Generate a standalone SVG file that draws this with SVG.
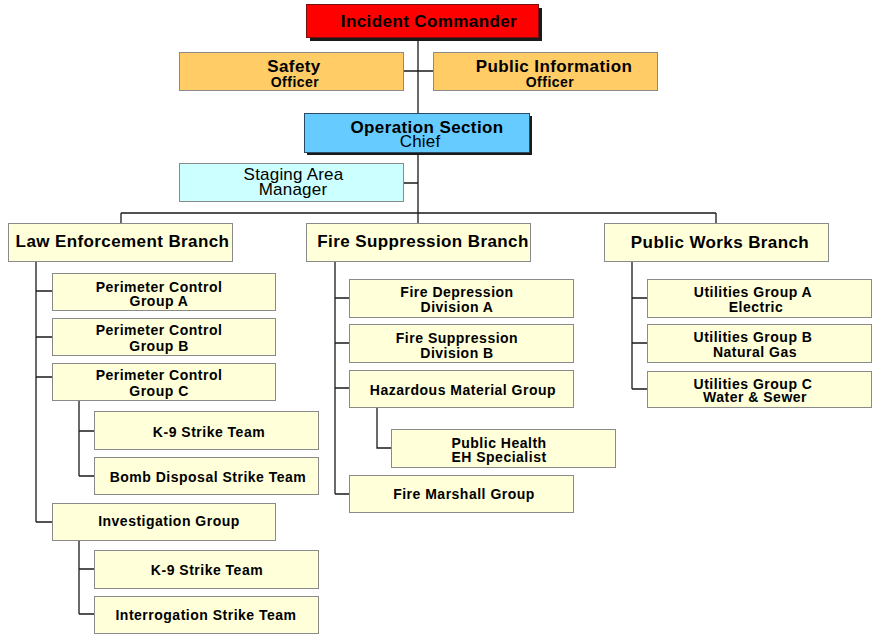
<svg xmlns="http://www.w3.org/2000/svg" width="878" height="639" viewBox="0 0 878 639">
<style>
text{font-family:"Liberation Sans",Arial,sans-serif;text-anchor:middle;fill:#000}
.b{font-weight:bold}
.t17{font-size:17px;letter-spacing:0.4px}
.t14{font-size:14px;letter-spacing:0.5px}
.n17{font-size:17px;font-weight:normal;letter-spacing:0.2px}
.box{stroke:#8a8a8a;stroke-width:1}
.y{fill:#ffffd9}
.sh{fill:#1a1a1a}
#conn path{fill:none;stroke:#1a1a1a;stroke-width:1.3}
</style>
<rect width="878" height="639" fill="#fff"/>
<g id="conn">
<path d="M418 37V213M403 71H433M403 183H418M121 213H716M121 213V223M418 213V223M716 213V223"/>
<path d="M36 261V522M36 291H52M36 337H52M36 377H52M36 522H52"/>
<path d="M79 401V476M79 431H94M79 476H94"/>
<path d="M79 540V614M79 569H94M79 614H94"/>
<path d="M335 262V494M335 298H349M335 343H349M335 388H349M335 494H349"/>
<path d="M377 407V448H391"/>
<path d="M632 262V389M632 298H647M632 343H647M632 389H647"/>
</g>
<g id="incident-commander">
<rect class="sh" x="310" y="8" width="232" height="33"/>
<rect x="306.5" y="4.5" width="232" height="33" fill="#ff0000" stroke="#7a1010"/>
<text class="b t17" x="429" y="27">Incident Commander</text>
</g>
<g id="safety-officer">
<rect class="box" x="179.5" y="52.5" width="224" height="38" fill="#ffcc66"/>
<text class="b t17" x="294" y="72">Safety</text>
<text class="b t14" x="295" y="87">Officer</text>
</g>
<g id="public-information-officer">
<rect class="box" x="433.5" y="52.5" width="224" height="38" fill="#ffcc66"/>
<text class="b t17" x="554" y="72">Public Information</text>
<text class="b t14" x="550" y="87">Officer</text>
</g>
<g id="operation-section-chief">
<rect class="sh" x="307" y="116" width="225" height="39"/>
<rect x="304.5" y="113.5" width="225" height="39" fill="#66ccff" stroke="#2a4a66"/>
<text class="b t17" x="427" y="133">Operation Section</text>
<text class="n17" x="420" y="147">Chief</text>
</g>
<g id="staging-area-manager">
<rect class="box" x="179.5" y="163.5" width="224" height="38" fill="#ccffff"/>
<text class="n17" x="293.5" y="180">Staging Area</text>
<text class="n17" x="293" y="195">Manager</text>
</g>
<g id="law-enforcement-branch">
<rect class="box y" x="8.5" y="223.5" width="224" height="38"/>
<text class="b t17" x="122.5" y="247">Law Enforcement Branch</text>
</g>
<g id="fire-suppression-branch">
<rect class="box y" x="306.5" y="223.5" width="224" height="38"/>
<text class="b t17" x="423" y="247">Fire Suppression Branch</text>
</g>
<g id="public-works-branch">
<rect class="box y" x="604.5" y="223.5" width="224" height="38"/>
<text class="b t17" x="720" y="248">Public Works Branch</text>
</g>
<g id="perimeter-a">
<rect class="box y" x="52.5" y="273.5" width="223" height="37"/>
<text class="b t14" x="159" y="292">Perimeter Control</text>
<text class="b t14" x="159" y="306">Group A</text>
</g>
<g id="perimeter-b">
<rect class="box y" x="52.5" y="318.5" width="223" height="37"/>
<text class="b t14" x="159" y="335">Perimeter Control</text>
<text class="b t14" x="159" y="351">Group B</text>
</g>
<g id="perimeter-c">
<rect class="box y" x="52.5" y="363.5" width="223" height="37"/>
<text class="b t14" x="159" y="380">Perimeter Control</text>
<text class="b t14" x="159" y="396">Group C</text>
</g>
<g id="k9-a">
<rect class="box y" x="94.5" y="411.5" width="224" height="38"/>
<text class="b t14" x="209" y="437">K-9 Strike Team</text>
</g>
<g id="bomb-disposal">
<rect class="box y" x="94.5" y="457.5" width="224" height="37"/>
<text class="b t14" x="208" y="482">Bomb Disposal Strike Team</text>
</g>
<g id="investigation-group">
<rect class="box y" x="52.5" y="503.5" width="223" height="37"/>
<text class="b t14" x="169" y="526">Investigation Group</text>
</g>
<g id="k9-b">
<rect class="box y" x="94.5" y="550.5" width="224" height="38"/>
<text class="b t14" x="207" y="575">K-9 Strike Team</text>
</g>
<g id="interrogation">
<rect class="box y" x="94.5" y="596.5" width="224" height="37"/>
<text class="b t14" x="206" y="620">Interrogation Strike Team</text>
</g>
<g id="fire-depression-a">
<rect class="box y" x="349.5" y="279.5" width="224" height="38"/>
<text class="b t14" x="457" y="297">Fire Depression</text>
<text class="b t14" x="457" y="312">Division A</text>
</g>
<g id="fire-suppression-b">
<rect class="box y" x="349.5" y="324.5" width="224" height="38"/>
<text class="b t14" x="457" y="343">Fire Suppression</text>
<text class="b t14" x="457" y="358">Division B</text>
</g>
<g id="hazardous-material">
<rect class="box y" x="349.5" y="370.5" width="224" height="37"/>
<text class="b t14" x="463" y="395">Hazardous Material Group</text>
</g>
<g id="public-health">
<rect class="box y" x="391.5" y="429.5" width="224" height="38"/>
<text class="b t14" x="499" y="448">Public Health</text>
<text class="b t14" x="499" y="462">EH Specialist</text>
</g>
<g id="fire-marshall">
<rect class="box y" x="349.5" y="475.5" width="224" height="37"/>
<text class="b t14" x="464" y="499">Fire Marshall Group</text>
</g>
<g id="utilities-a">
<rect class="box y" x="647.5" y="279.5" width="224" height="38"/>
<text class="b t14" x="753" y="297">Utilities Group A</text>
<text class="b t14" x="756" y="312">Electric</text>
</g>
<g id="utilities-b">
<rect class="box y" x="647.5" y="324.5" width="224" height="38"/>
<text class="b t14" x="753" y="342">Utilities Group B</text>
<text class="b t14" x="755" y="357">Natural Gas</text>
</g>
<g id="utilities-c">
<rect class="box y" x="647.5" y="371.5" width="224" height="36"/>
<text class="b t14" x="753" y="389">Utilities Group C</text>
<text class="b t14" x="755" y="402">Water &amp; Sewer</text>
</g>
</svg>
